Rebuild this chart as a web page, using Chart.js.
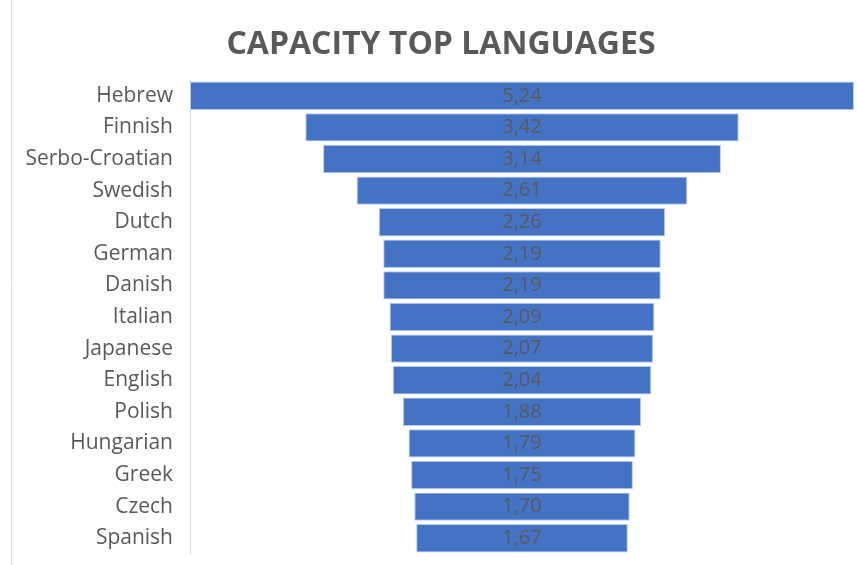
<!DOCTYPE html>
<html>
<head>
<meta charset="utf-8">
<script src="https://cdn.jsdelivr.net/npm/chart.js@4/dist/chart.umd.min.js"></script>
<style>
  html, body { margin: 0; padding: 0; background: #fff; }
  #wrap { width: 858px; height: 565px; position: relative; }
</style>
</head>
<body>
<div id="wrap"><canvas id="myChart" width="858" height="565"></canvas></div>
<script>
// Dados do funil
var languages = ['Hebrew', 'Finnish', 'Serbo-Croatian', 'Swedish', 'Dutch', 'German', 'Danish',
  'Italian', 'Japanese', 'English', 'Polish', 'Hungarian', 'Greek', 'Czech', 'Spanish'];
var capacity = [5.24, 3.42, 3.14, 2.61, 2.26, 2.19, 2.19, 2.09, 2.07, 2.04, 1.88, 1.79, 1.75, 1.70, 1.67];
var chartTitle = 'CAPACITY TOP LANGUAGES';

var maxVal = Math.max.apply(null, capacity);
// barra flutuante centrada em zero
var funnelData = capacity.map(function(v) { return [-v / 2, v / 2]; });

var textGray = '#595959';
var labelFont = '"Open Sans", sans-serif';

// título e moldura
var titlePlugin = {
  id: 'funnelTitle',
  beforeDraw: function(chart) {
    var ctx = chart.ctx;
    ctx.save();
    ctx.strokeStyle = '#d9d9d9';
    ctx.lineWidth = 1;
    ctx.beginPath();
    ctx.moveTo(11.5, 0);
    ctx.lineTo(11.5, chart.height);
    ctx.stroke();
    ctx.fillStyle = textGray;
    ctx.font = 'bold 32px ' + labelFont;
    ctx.textAlign = 'center';
    ctx.textBaseline = 'middle';
    ctx.fillText(chartTitle, 441, 45);
    ctx.restore();
  }
};

// rótulos de valor no centro das barras
var valuePlugin = {
  id: 'funnelValues',
  afterDatasetsDraw: function(chart) {
    var ctx = chart.ctx;
    var meta = chart.getDatasetMeta(0);
    var xs = chart.scales.x;
    ctx.save();
    ctx.fillStyle = textGray;
    ctx.font = '20px ' + labelFont;
    ctx.textAlign = 'center';
    ctx.textBaseline = 'middle';
    meta.data.forEach(function(bar, i) {
      ctx.fillText(capacity[i].toFixed(2).replace('.', ','), xs.getPixelForValue(0), bar.y);
    });
    ctx.restore();
  }
};

var ctx = document.getElementById('myChart').getContext('2d');
var chart = new Chart(ctx, {
  type: 'bar',
  data: {
    labels: languages,
    datasets: [{
      data: funnelData,
      backgroundColor: '#4472C4',
      borderColor: 'rgba(180,199,231,0.9)',
      borderWidth: 1,
      borderSkipped: false,
      barPercentage: 0.9,
      categoryPercentage: 1
    }]
  },
  options: {
    indexAxis: 'y',
    responsive: false,
    animation: false,
    layout: { padding: { top: 80, right: 4, bottom: 11, left: 0 } },
    plugins: {
      legend: { display: false },
      tooltip: { enabled: false }
    },
    scales: {
      x: {
        display: false,
        min: -maxVal / 2,
        max: maxVal / 2
      },
      y: {
        afterFit: function(scale) {
          scale.width = 190;
          scale.paddingTop = 0;
          scale.paddingBottom = 0;
        },
        grid: { display: false, drawTicks: false },
        border: { display: true, color: '#d9d9d9', width: 1 },
        ticks: {
          color: textGray,
          padding: 17,
          font: { family: labelFont, size: 21 }
        }
      }
    }
  },
  plugins: [titlePlugin, valuePlugin]
});
</script>
</body>
</html>
